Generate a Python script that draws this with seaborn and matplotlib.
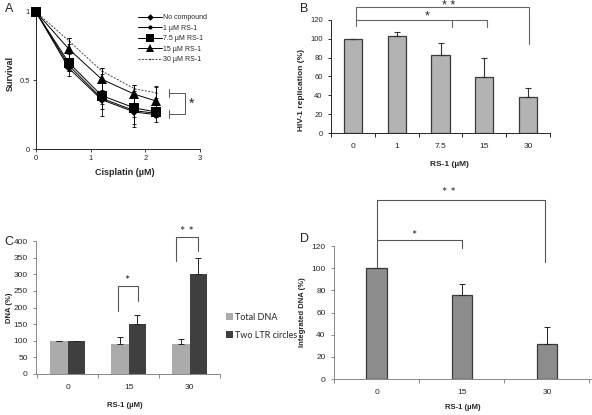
import matplotlib
matplotlib.use("Agg")
import matplotlib.pyplot as plt
import numpy as np
import pandas as pd
import seaborn as sns

# ---- panel A: survival vs cisplatin ----
cisplatin = [0, 0.6, 1.2, 1.8, 2.2]
surv_labels = ["No compound", "1 µM RS-1", "7.5 µM RS-1", "15 µM RS-1", "30 µM RS-1"]
surv_none = [1, 0.59, 0.36, 0.27, 0.25]
surv_1 = [1, 0.61, 0.37, 0.28, 0.26]
surv_75 = [1, 0.63, 0.39, 0.30, 0.27]
surv_15 = [1, 0.73, 0.51, 0.40, 0.35]
surv_30 = [1, 0.79, 0.57, 0.44, 0.41]
err_none = [0, 0.06, 0.12, 0.11, 0.05]
err_1 = [0, 0.04, 0.04, 0.05, 0.03]
err_75 = [0, 0.06, 0.10, 0.12, 0.04]
err_15 = [0, 0.08, 0.08, 0.07, 0.11]
err_30 = [0, 0.02, 0.02, 0.03, 0.04]

# ---- panel B: HIV-1 replication ----
rs1_b = ["0", "1", "7.5", "15", "30"]
hiv_rep = [100, 103, 83, 59, 38]
hiv_err = [0, 4.5, 13, 20.5, 9.5]

# ---- panel C: total DNA / 2-LTR circles ----
rs1_cd = ["0", "15", "30"]
dna_series = ["Total DNA", "Two LTR circles"]
total_dna = [100, 90, 90]
total_err = [0, 20, 14]
ltr_dna = [100, 149, 300]
ltr_err = [0, 28, 50]

# ---- panel D: integrated DNA ----
integrated = [100, 76, 32]
integrated_err = [0, 10, 15]

sns.set_style("ticks")
plt.rcParams["font.family"] = ["Liberation Sans", "DejaVu Sans"]

W, H = 592, 415
fig = plt.figure(figsize=(W / 100, H / 100), dpi=100)


def box(x0, x1, ytop, ybot):
    # pixel box -> figure fraction
    return [x0 / W, 1 - ybot / H, (x1 - x0) / W, (ybot - ytop) / H]


axA = fig.add_axes(box(36, 200, 12, 149))
axB = fig.add_axes(box(331, 550, 20, 133))
axC = fig.add_axes(box(36, 220, 241, 374))
axD = fig.add_axes(box(334, 592, 246, 379))

# ---------- A ----------
series = [surv_none, surv_1, surv_75, surv_15, surv_30]
errs = [err_none, err_1, err_75, err_15, err_30]
markers = ["D", "o", "s", "^", "."]
msizes = [4, 3.5, 7, 7, 3]
styles = ["-", "-", "-", "-", (0, (2, 1.5))]
colors = ["black", "black", "black", "black", "#444444"]
zorders = [3, 3, 5, 4, 2]
for lab, vals, er, mk, ms, ls, c, z in zip(surv_labels, series, errs, markers, msizes,
                                           styles, colors, zorders):
    sns.lineplot(x=cisplatin, y=vals, ax=axA, color=c, marker=mk, markersize=ms,
                 linestyle=ls, linewidth=0.7, label=lab, markeredgewidth=0, zorder=z,
                 clip_on=False)
    axA.errorbar(cisplatin, vals, yerr=er, fmt="none", ecolor="black", elinewidth=0.6,
                 capsize=1.5, capthick=0.6, zorder=z)
axA.set_xlim(0, 3)
axA.set_ylim(0, 1)
axA.set_xticks([0, 1, 2, 3])
axA.set_yticks([0, 0.5, 1])
axA.set_yticklabels(["0", "0.5", "1"])
axA.tick_params(labelsize=5.5, length=2.5, width=0.6, pad=2)
for s in ["top", "right"]:
    axA.spines[s].set_visible(False)
for s in ["left", "bottom"]:
    axA.spines[s].set_linewidth(0.7)
axA.set_xlabel("Cisplatin (µM)", fontsize=6.5, fontweight="bold")
axA.set_ylabel("Survival", fontsize=6.5, fontweight="bold")
axA.xaxis.set_label_coords(0.54, -0.14)
axA.yaxis.set_label_coords(-0.13, 0.55)
axA.legend(loc="upper left", bbox_to_anchor=(0.59, 1.02), frameon=False, fontsize=5,
           handlelength=3.5, handletextpad=0.1, labelspacing=0.5, borderpad=0.2,
           markerscale=0.85)
# significance bracket
kw = dict(color="#555555", lw=0.7, clip_on=False)
axA.plot([2.43, 2.72, 2.72, 2.43], [0.41, 0.41, 0.255, 0.255], **kw)
axA.plot([2.43, 2.43], [0.38, 0.44], **kw)
axA.plot([2.43, 2.43], [0.225, 0.285], **kw)
axA.text(2.84, 0.33, "*", fontsize=10, ha="center", va="center", clip_on=False)

# ---------- B ----------
dfB = pd.DataFrame({"rs1": rs1_b, "rep": hiv_rep})
sns.barplot(data=dfB, x="rs1", y="rep", ax=axB, color="#b3b3b3", edgecolor="#3a3a3a",
            linewidth=0.9, width=0.42, errorbar=None, saturation=1)
xb = np.arange(len(rs1_b))
axB.errorbar(xb, hiv_rep, yerr=[np.zeros(len(hiv_err)), hiv_err], fmt="none",
             ecolor="#333333", elinewidth=0.8, capsize=2, capthick=0.8)
axB.set_xlim(-0.5, 4.5)
axB.set_ylim(0, 120)
axB.set_yticks(range(0, 121, 20))
axB.set_xticks(np.arange(-0.5, 5, 1), minor=True)
axB.tick_params(axis="x", which="major", length=0, pad=7)
axB.tick_params(axis="x", which="minor", length=3, width=0.7)
axB.tick_params(axis="y", length=2.5, width=0.7)
axB.tick_params(labelsize=6)
for lab in axB.get_yticklabels():
    lab.set_fontsize(5.5)
for s in ["top", "right"]:
    axB.spines[s].set_visible(False)
for s in ["left", "bottom"]:
    axB.spines[s].set_linewidth(0.7)
axB.set_xlabel("RS-1 (µM)", fontsize=6, fontweight="bold")
axB.set_ylabel("HIV-1 replication (%)", fontsize=6, fontweight="bold")
axB.xaxis.set_label_coords(0.54, -0.25)
axB.yaxis.set_label_coords(-0.12, 0.38)
kw = dict(color="#666666", lw=0.8, clip_on=False)
axB.plot([0.08, 0.08, 4.03, 4.03], [114, 134, 134, 95], **kw)
axB.plot([0.08, 3.07, 3.07], [120, 120, 113], **kw)
axB.plot([2.26, 2.26], [120, 113], **kw)
axB.text(1.7, 124, "*", fontsize=9, ha="center", va="center", clip_on=False)
axB.text(2.18, 135, "* *", fontsize=9, ha="center", va="center", clip_on=False)

# ---------- C ----------
plt.rcParams["font.family"] = ["Lato", "DejaVu Sans"]
dfC = pd.DataFrame({
    "rs1": rs1_cd * 2,
    "val": total_dna + ltr_dna,
    "kind": [dna_series[0]] * 3 + [dna_series[1]] * 3,
})
sns.barplot(data=dfC, x="rs1", y="val", hue="kind", ax=axC, width=0.57,
            palette=["#ababab", "#3f3f3f"], errorbar=None, saturation=1,
            edgecolor="none")
xc = np.arange(len(rs1_cd))
off = 0.57 / 4
axC.errorbar(xc - off, total_dna, yerr=[np.zeros(3), total_err], fmt="none",
             ecolor="#222222", elinewidth=0.7, capsize=2, capthick=0.7)
axC.errorbar(xc + off, ltr_dna, yerr=[np.zeros(3), ltr_err], fmt="none",
             ecolor="#222222", elinewidth=0.7, capsize=2, capthick=0.7)
axC.set_xlim(-0.52, 2.5)
axC.set_ylim(0, 400)
axC.set_yticks(range(0, 401, 50))
axC.set_xticks(np.arange(-0.5, 3, 1), minor=True)
axC.tick_params(axis="x", which="major", length=0, pad=7)
axC.tick_params(axis="x", which="minor", length=3, width=0.7, color="#888888")
axC.tick_params(axis="y", length=2.5, width=0.7, color="#888888")
axC.tick_params(labelsize=6)
for s in ["top", "right"]:
    axC.spines[s].set_visible(False)
for s in ["left", "bottom"]:
    axC.spines[s].set_color("#888888")
    axC.spines[s].set_linewidth(0.7)
axC.set_xlabel("RS-1 (µM)", fontsize=5.5, fontweight="bold")
axC.set_ylabel("DNA (%)", fontsize=5.5, fontweight="bold")
axC.xaxis.set_label_coords(0.48, -0.21)
axC.yaxis.set_label_coords(-0.125, 0.5)
axC.legend(loc="center left", bbox_to_anchor=(0.99, 0.36), frameon=False, fontsize=6.5,
           handlelength=0.7, handleheight=0.7, handletextpad=0.3, labelspacing=1.0)
kw = dict(color="#555555", lw=0.8, clip_on=False)
axC.plot([0.82, 0.82, 1.16, 1.16], [190, 265, 265, 219], **kw)
axC.plot([1.78, 1.78, 2.14, 2.14], [339, 412, 412, 369], **kw)
axC.text(0.97, 280, "*", fontsize=9, ha="center", va="center", clip_on=False)
axC.text(1.96, 428, "* *", fontsize=9, ha="center", va="center", clip_on=False)

# ---------- D ----------
dfD = pd.DataFrame({"rs1": rs1_cd, "val": integrated})
sns.barplot(data=dfD, x="rs1", y="val", ax=axD, color="#8c8c8c", edgecolor="#3a3a3a",
            linewidth=0.9, width=0.24, errorbar=None, saturation=1)
axD.errorbar(xc, integrated, yerr=[np.zeros(3), integrated_err], fmt="none",
             ecolor="#222222", elinewidth=0.7, capsize=2, capthick=0.7)
axD.set_xlim(-0.49, 2.53)
axD.set_ylim(0, 120)
axD.set_yticks(range(0, 121, 20))
axD.set_xticks(np.arange(-0.5, 3, 1), minor=True)
axD.tick_params(axis="x", which="major", length=0, pad=7)
axD.tick_params(axis="x", which="minor", length=3, width=0.7, color="#888888")
axD.tick_params(axis="y", length=2.5, width=0.7, color="#888888")
axD.tick_params(labelsize=6)
for s in ["top", "right"]:
    axD.spines[s].set_visible(False)
for s in ["left", "bottom"]:
    axD.spines[s].set_color("#888888")
    axD.spines[s].set_linewidth(0.7)
axD.set_xlabel("RS-1 (µM)", fontsize=5.5, fontweight="bold")
axD.set_ylabel("Integrated DNA (%)", fontsize=5.5, fontweight="bold")
axD.xaxis.set_label_coords(0.5, -0.19)
axD.yaxis.set_label_coords(-0.11, 0.5)
kw = dict(color="#555555", lw=0.8, clip_on=False)
axD.plot([0.01, 0.01, 1.98, 1.98], [100, 161.5, 161.5, 105.6], **kw)
axD.plot([0.01, 1.0, 1.0], [125.4, 125.4, 118.5], **kw)
axD.text(0.44, 129, "*", fontsize=9, ha="center", va="center", clip_on=False)
axD.text(0.85, 168, "* *", fontsize=9, ha="center", va="center", clip_on=False)

# panel letters
for lab, x, y in [("A", 5, 9), ("B", 300, 9), ("C", 4, 242), ("D", 300, 239)]:
    fig.text(x / W, 1 - y / H, lab, fontsize=9, ha="left", va="center",
             family=["Liberation Sans", "DejaVu Sans"])

fig.savefig("out.png", dpi=100)
